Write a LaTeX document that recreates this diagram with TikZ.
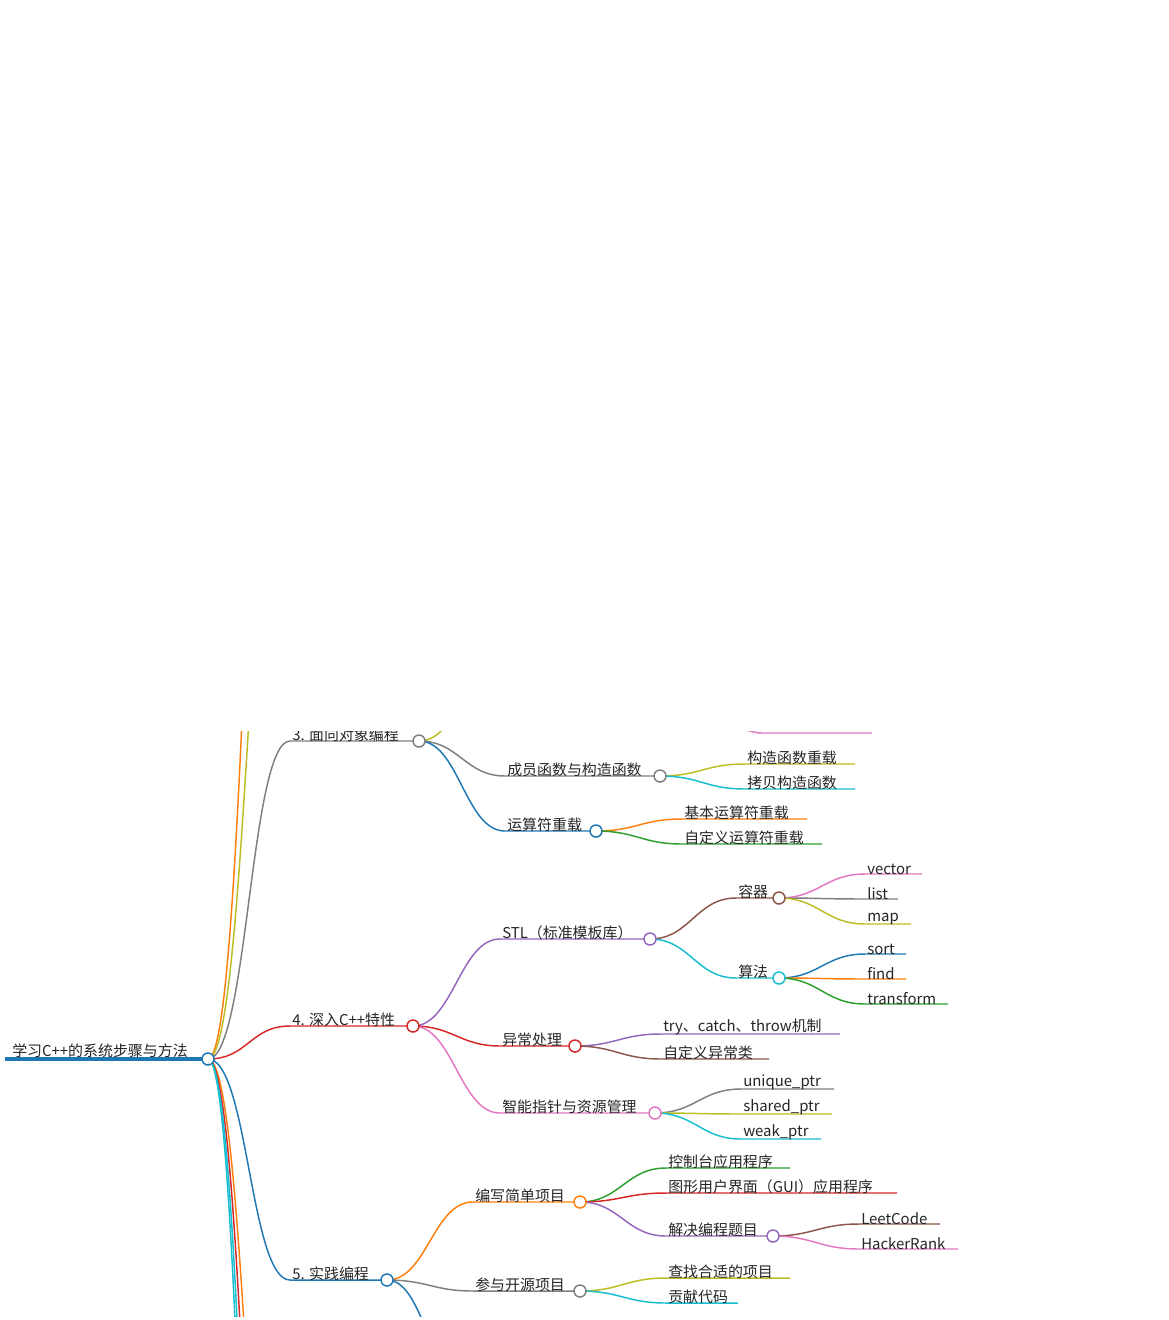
\documentclass[tikz,border=0pt]{standalone}
\usepackage{fontspec}
\setmainfont{Noto Sans CJK SC}
\usetikzlibrary{calc}
\definecolor{cB}{HTML}{1F77B4}\definecolor{cO}{HTML}{FF7F0E}\definecolor{cG}{HTML}{2CA02C}
\definecolor{cR}{HTML}{D62728}\definecolor{cP}{HTML}{9467BD}\definecolor{cN}{HTML}{8C564B}
\definecolor{cK}{HTML}{E377C2}\definecolor{cY}{HTML}{7F7F7F}\definecolor{cL}{HTML}{BCBD22}
\definecolor{cC}{HTML}{17BECF}
\newcommand\mbr[7]{% parent, name, sx, ex, y, color, text
  \coordinate (#2-s) at (#3,#5);
  \coordinate (#2) at (#4,#5);
  \draw[link,#6] (#1) .. controls ($(#1)+(40,0)$) and ($(#2-s)+(-40,0)$) .. (#2-s) -- (#2);
  \node[lbl,anchor=south west] (#2-t) at ($(#2-s)+(2,1)$) {#7};
}
\newcommand\mcirc[2]{\draw[#2,line width=1.1pt,fill=white] (#1) circle (6);}
\begin{document}
\begin{tikzpicture}[x=0.75pt,y=-0.75pt,
  link/.style={line width=1.1pt},
  lbl/.style={inner sep=0pt,font=\fontsize{11.2pt}{12pt}\selectfont,text=black!85}]
\useasboundingbox[fill=white] (0,0) rectangle (1169,1320);
\begin{scope}
\clip (0,731) rectangle (1169,1316);
\coordinate (root) at (208,1059);
\draw[cB,line width=3pt] (5,1059) -- (root);
\node[lbl,anchor=south west] (root-t) at (12,1058) {学习C++的系统步骤与方法};
% offscreen branches
\mbr{root}{b1}{290}{300}{60}{cO}{}
\mbr{root}{b2}{290}{300}{380}{cL}{}
\mbr{root}{b6}{290}{300}{1750}{cO}{}
\mbr{root}{b7}{290}{300}{1950}{cR}{}
\mbr{root}{b8}{290}{300}{2150}{cC}{}
\mbr{root}{b9}{290}{300}{2350}{cC}{}
% 3
\mbr{root}{n3}{290}{419}{741}{cY}{3. 面向对象编程}
\mbr{n3}{n3a}{505}{630}{660}{cL}{}
\mbr{n3a}{n3aa}{762}{872}{733}{cK}{}
\mbr{n3}{n31}{505}{660}{776}{cY}{成员函数与构造函数}
\mbr{n31}{n311}{745}{855}{764}{cL}{构造函数重载}
\mbr{n31}{n312}{745}{855}{789}{cC}{拷贝构造函数}
\mbr{n3}{n32}{505}{596}{831}{cB}{运算符重载}
\mbr{n32}{n321}{682}{807}{819}{cO}{基本运算符重载}
\mbr{n32}{n322}{682}{822}{844}{cG}{自定义运算符重载}
% 4
\mbr{root}{n4}{290}{413}{1026}{cR}{4. 深入C++特性}
\mbr{n4}{n41}{500}{650}{939}{cP}{STL（标准模板库）}
\mbr{n41}{n411}{736}{779}{898}{cN}{容器}
\mbr{n411}{v1}{865}{922}{874}{cK}{vector}
\mbr{n411}{v2}{865}{898}{899}{cY}{list}
\mbr{n411}{v3}{865}{911}{924}{cL}{map}
\mbr{n41}{n412}{736}{779}{978}{cC}{算法}
\mbr{n412}{a1}{865}{906}{954}{cB}{sort}
\mbr{n412}{a2}{865}{906}{979}{cO}{find}
\mbr{n412}{a3}{865}{948}{1004}{cG}{transform}
\mbr{n4}{n42}{500}{575}{1046}{cR}{异常处理}
\mbr{n42}{e1}{661}{840}{1034}{cP}{try、catch、throw机制}
\mbr{n42}{e2}{661}{769}{1059}{cN}{自定义异常类}
\mbr{n4}{n43}{500}{655}{1113}{cK}{智能指针与资源管理}
\mbr{n43}{p1}{741}{834}{1089}{cY}{unique\_ptr}
\mbr{n43}{p2}{741}{832}{1114}{cL}{shared\_ptr}
\mbr{n43}{p3}{741}{821}{1139}{cC}{weak\_ptr}
% 5
\mbr{root}{n5}{290}{387}{1280}{cB}{5. 实践编程}
\mbr{n5}{n51}{473}{580}{1202}{cO}{编写简单项目}
\mbr{n51}{s1}{666}{790}{1168}{cG}{控制台应用程序}
\mbr{n51}{s2}{666}{897}{1193}{cR}{图形用户界面（GUI）应用程序}
\mbr{n51}{s3}{666}{773}{1236}{cP}{解决编程题目}
\mbr{s3}{s31}{859}{940}{1224}{cN}{LeetCode}
\mbr{s3}{s32}{859}{958}{1249}{cK}{HackerRank}
\mbr{n5}{n52}{473}{580}{1291}{cY}{参与开源项目}
\mbr{n52}{o1}{666}{790}{1278}{cL}{查找合适的项目}
\mbr{n52}{o2}{666}{738}{1303}{cC}{贡献代码}
\mbr{n5}{n53}{473}{580}{1400}{cB}{}
% circles
\mcirc{root}{cB}\mcirc{n3}{cY}\mcirc{n31}{cY}\mcirc{n32}{cB}
\mcirc{n4}{cR}\mcirc{n41}{cP}\mcirc{n411}{cN}\mcirc{n412}{cC}\mcirc{n42}{cR}\mcirc{n43}{cK}
\mcirc{n5}{cB}\mcirc{n51}{cO}\mcirc{s3}{cP}\mcirc{n52}{cY}
\end{scope}
\end{tikzpicture}
\end{document}
